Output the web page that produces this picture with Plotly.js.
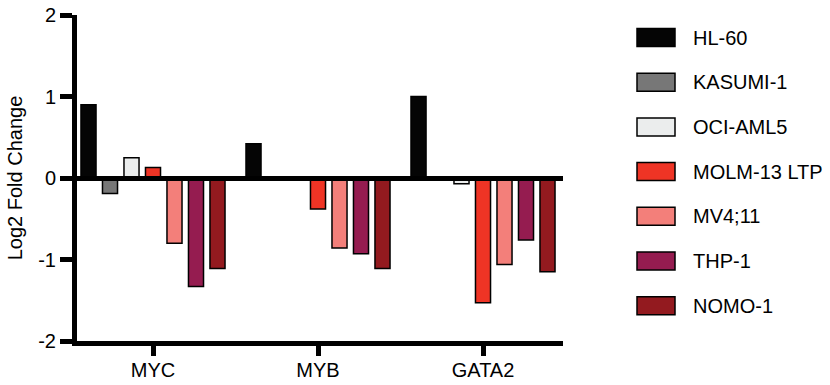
<!DOCTYPE html>
<html>
<head>
<meta charset="utf-8">
<script src="https://cdn.plot.ly/plotly-3.0.1.min.js"></script>
<style>html,body{margin:0;padding:0;background:#fff;}#chart{width:830px;height:385px;}</style>
</head>
<body>
<div id="chart"></div>
<script>
// ---- data ----
const genes = ["MYC", "MYB", "GATA2"];
const cellLines = ["HL-60", "KASUMI-1", "OCI-AML5", "MOLM-13 LTP", "MV4;11", "THP-1", "NOMO-1"];
const hl60     = [0.90, 0.42, 1.00];
const kasumi1  = [-0.19, 0.00, 0.00];
const ociAml5  = [0.25, 0.00, -0.07];
const molm13   = [0.13, -0.38, -1.53];
const mv411    = [-0.80, -0.86, -1.06];
const thp1     = [-1.33, -0.93, -0.76];
const nomo1    = [-1.11, -1.11, -1.15];
const seriesValues = [hl60, kasumi1, ociAml5, molm13, mv411, thp1, nomo1];
const colors = ["#050505", "#777777", "#ebeded", "#ef3425", "#f37f7a", "#951c50", "#931a1f"];

// ---- layout geometry ----
const W = 830, H = 385;
const M = {l: 77, r: 267, t: 15, b: 44};
const pw = W - M.l - M.r, ph = H - M.t - M.b;
const px2paperX = px => (px - M.l) / pw;
const px2paperY = py => 1 - (py - M.t) / ph;
const FONT = "Arial, 'Liberation Sans', sans-serif";
const FS = 20;

const traces = cellLines.map((name, i) => ({
  type: "bar",
  name: name,
  x: genes,
  y: seriesValues[i],
  marker: {color: colors[i], line: {color: "#000", width: 1.5}},
  showlegend: false,
  hoverinfo: "x+y+name"
}));

// custom legend (wide boxes as in the reference)
const shapes = [];
const annotations = [];
cellLines.forEach((name, i) => {
  const cy = 37.5 + 44.7 * i;
  shapes.push({
    type: "rect", xref: "paper", yref: "paper",
    x0: px2paperX(637), x1: px2paperX(675),
    y0: px2paperY(cy - 9), y1: px2paperY(cy + 9),
    fillcolor: colors[i], line: {color: "#000", width: 1.5}
  });
  annotations.push({
    xref: "paper", yref: "paper",
    x: px2paperX(691), y: px2paperY(cy),
    xanchor: "left", yanchor: "middle",
    text: name, showarrow: false,
    font: {family: FONT, size: FS, color: "#000"}
  });
});

const layout = {
  width: W, height: H,
  margin: M,
  paper_bgcolor: "#fff", plot_bgcolor: "#fff",
  font: {family: FONT, size: FS, color: "#000"},
  barmode: "group",
  bargap: 0.088,
  bargroupgap: 0.30,
  xaxis: {
    type: "category",
    range: [-0.4606, 2.4848],
    showline: true, linewidth: 5, linecolor: "#000",
    ticks: "outside", ticklen: 10, tickwidth: 5, tickcolor: "#000",
    ticklabelstandoff: -3,
    showgrid: false, zeroline: false,
    tickfont: {family: FONT, size: FS, color: "#000"},
    fixedrange: true
  },
  yaxis: {
    range: [-2, 2],
    tickvals: [-2, -1, 0, 1, 2],
    ticktext: ["-2", "-1", "0", "1", "2"],
    showline: true, linewidth: 5, linecolor: "#000",
    ticks: "outside", ticklen: 12, tickwidth: 5, tickcolor: "#000",
    showgrid: false,
    zeroline: true, zerolinewidth: 5, zerolinecolor: "#000",
    zerolinelayer: "above traces",
    tickfont: {family: FONT, size: FS, color: "#000"},
    title: {text: "Log2 Fold Change", font: {family: FONT, size: FS, color: "#000"}, standoff: 12},
    fixedrange: true
  },
  shapes: shapes,
  annotations: annotations,
  showlegend: false
};

Plotly.newPlot("chart", traces, layout, {displayModeBar: false, staticPlot: true});
</script>
</body>
</html>
